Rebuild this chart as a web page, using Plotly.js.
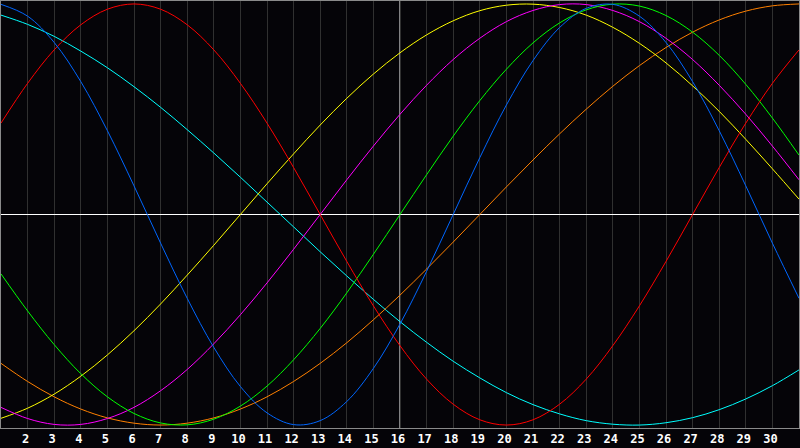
<!DOCTYPE html>
<html>
<head>
<meta charset="utf-8">
<script src="https://cdn.plot.ly/plotly-3.0.1.min.js"></script>
<style>
  html, body { margin: 0; padding: 0; background: #050408; }
  #chart { width: 800px; height: 448px; }
</style>
</head>
<body>
<div id="chart"></div>
<script>
// days of the month shown on the x axis
const days = [1,2,3,4,5,6,7,8,9,10,11,12,13,14,15,16,17,18,19,20,21,22,23,24,25,26,27,28,29,30,31];
const dayLabels = ["2","3","4","5","6","7","8","9","10","11","12","13","14","15","16","17","18","19","20","21","22","23","24","25","26","27","28","29","30"];
const today = 16;

// cycle values, one per day
const physical = [0.998,0.942,0.817,0.631,0.398,0.136,-0.136,-0.398,-0.631,-0.817,-0.942,-0.998,-0.979,-0.888,-0.731,-0.520,-0.270,0,0.270,0.520,0.731,0.888,0.979,0.998,0.942,0.817,0.631,0.398,0.136,-0.136,-0.398];
const emotional = [0.434,0.623,0.782,0.901,0.975,1,0.975,0.901,0.782,0.623,0.434,0.223,0,-0.223,-0.434,-0.623,-0.782,-0.901,-0.975,-1,-0.975,-0.901,-0.782,-0.623,-0.434,-0.223,0,0.223,0.434,0.623,0.782];
const intellectual = [-0.282,-0.458,-0.618,-0.756,-0.866,-0.945,-0.990,-0.999,-0.972,-0.910,-0.815,-0.690,-0.541,-0.372,-0.189,0,0.189,0.372,0.541,0.690,0.815,0.910,0.972,0.999,0.990,0.945,0.866,0.756,0.618,0.458,0.282];
const intuitive = [-0.916,-0.969,-0.997,-0.997,-0.969,-0.916,-0.837,-0.736,-0.614,-0.476,-0.325,-0.165,0,0.165,0.325,0.476,0.614,0.736,0.837,0.916,0.969,0.997,0.997,0.969,0.916,0.837,0.736,0.614,0.476,0.325,0.165];
const aesthetic = [-0.968,-0.920,-0.853,-0.768,-0.667,-0.552,-0.425,-0.288,-0.146,0,0.146,0.288,0.425,0.552,0.667,0.768,0.853,0.920,0.968,0.994,0.999,0.983,0.947,0.889,0.813,0.720,0.611,0.490,0.357,0.217,0.073];
const awareness = [-0.707,-0.793,-0.866,-0.924,-0.966,-0.991,-1,-0.991,-0.966,-0.924,-0.866,-0.793,-0.707,-0.609,-0.5,-0.383,-0.259,-0.131,0,0.131,0.259,0.383,0.5,0.609,0.707,0.793,0.866,0.924,0.966,0.991,1];
const spiritual = [0.947,0.903,0.846,0.776,0.697,0.607,0.509,0.403,0.292,0.177,0.059,-0.059,-0.177,-0.292,-0.403,-0.509,-0.607,-0.697,-0.776,-0.846,-0.903,-0.947,-0.979,-0.996,-1.000,-0.989,-0.965,-0.927,-0.876,-0.813,-0.738];

function cycle(values, color) {
  return {
    x: days,
    y: values,
    type: 'scatter',
    mode: 'lines',
    line: { color: color, width: 1, shape: 'spline', smoothing: 1 },
    hoverinfo: 'skip'
  };
}

const traces = [
  cycle(spiritual, '#00ffff'),
  cycle(awareness, '#ff8000'),
  cycle(aesthetic, '#ffff00'),
  cycle(intuitive, '#ff00ff'),
  cycle(intellectual, '#00ff00'),
  cycle(emotional, '#ff0000'),
  cycle(physical, '#0066ff')
];

const layout = {
  width: 800,
  height: 448,
  margin: { l: 1, r: 1, t: 1, b: 20 },
  paper_bgcolor: '#050408',
  plot_bgcolor: '#050408',
  showlegend: false,
  xaxis: {
    range: [1, 31],
    tickmode: 'array',
    tickvals: dayLabels.map(Number),
    ticktext: dayLabels,
    ticks: '',
    showgrid: true,
    gridcolor: '#303030',
    gridwidth: 1,
    zeroline: false,
    showline: true,
    mirror: true,
    linecolor: '#8a8a8a',
    linewidth: 1,
    ticklabelshift: -2,
    ticklabelstandoff: 0,
    tickfont: { family: 'DejaVu Sans Mono', size: 12, color: '#ffffff', weight: 'bold' },
    fixedrange: true
  },
  yaxis: {
    range: [-1.014, 1.014],
    showticklabels: false,
    ticks: '',
    showgrid: false,
    zeroline: true,
    zerolinecolor: '#ffffff',
    zerolinewidth: 1,
    showline: true,
    mirror: true,
    linecolor: '#8a8a8a',
    linewidth: 1,
    fixedrange: true
  },
  shapes: [{
    type: 'line',
    xref: 'x', yref: 'paper',
    x0: today, x1: today, y0: 0, y1: 1,
    line: { color: '#ffffff', width: 1 },
    layer: 'between'
  }]
};

Plotly.newPlot('chart', traces, layout, { staticPlot: true, displayModeBar: false });
</script>
</body>
</html>
